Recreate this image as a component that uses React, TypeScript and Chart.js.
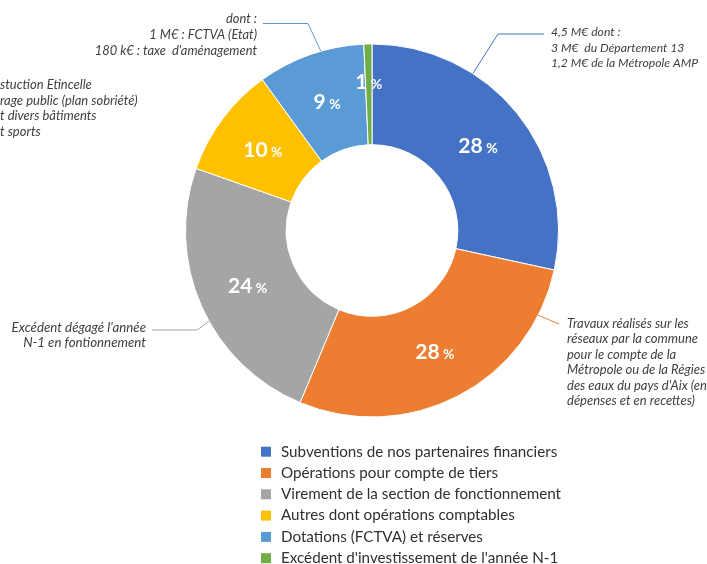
import React, { useEffect, useRef } from "react";
import { Chart, registerables } from "chart.js";

Chart.register(...registerables);

// ---- Data ----
const categories = [
  "Subventions de nos partenaires financiers",
  "Opérations pour compte de tiers",
  "Virement de la section de fonctionnement",
  "Autres dont opérations comptables",
  "Dotations (FCTVA) et réserves",
  "Excédent d'investissement de l'année N-1",
];
const shares = [28.4, 27.9, 24.1, 9.6, 9.3, 0.7];
const colors = ["#4472C4", "#ED7D31", "#A5A5A5", "#FFC000", "#5B9BD5", "#70AD47"];

const calloutSubventions = ["4,5 M€ dont :", "3 M€  du Département 13", "1,2 M€ de la Métropole AMP"];
const calloutDotations = ["dont :", "1 M€ : FCTVA (Etat)", "180 k€ : taxe  d'aménagement"];
const calloutAutres = ["stuction Etincelle", "rage public (plan sobriété)", "t divers bâtiments", "t sports"];
const calloutVirement = ["Excédent dégagé l'année", "N-1 en fontionnement"];
const calloutTiers = [
  "Travaux réalisés sur les",
  "réseaux par la commune",
  "pour le compte de la",
  "Métropole ou de la Régies",
  "des eaux du pays d'Aix (en",
  "dépenses et en recettes)",
];

const FONT = "Lato, 'Noto Sans', sans-serif";
const TEXT_COLOR = "#404040";

type Callout = {
  index: number;
  frac: number | null;
  path: number[][];
  lines: string[];
  x: number;
  y: number;
  lh: number;
  size: number;
  align: CanvasTextAlign;
};

const callouts: Callout[] = [
  { index: 0, frac: 0.32, path: [[498, 34], [544, 34]], lines: calloutSubventions, x: 551, y: 32.5, lh: 15.3, size: 12.2, align: "left" },
  { index: 4, frac: 0.6, path: [[308, 23.5], [263, 23.5]], lines: calloutDotations, x: 257, y: 19, lh: 15.7, size: 12.9, align: "right" },
  { index: 3, frac: null, path: [], lines: calloutAutres, x: 0, y: 85, lh: 15.6, size: 13, align: "left" },
  { index: 2, frac: 0.44, path: [[197, 330], [152, 330]], lines: calloutVirement, x: 146, y: 328, lh: 15, size: 13.3, align: "right" },
  { index: 1, frac: 0.147, path: [[559, 324]], lines: calloutTiers, x: 567, y: 323.5, lh: 15.5, size: 13, align: "left" },
];

const pctLabels = {
  id: "pctLabels",
  afterDatasetsDraw(chart: any) {
    const ctx = chart.ctx as CanvasRenderingContext2D;
    const meta = chart.getDatasetMeta(0);
    const data = chart.data.datasets[0].data as number[];
    const total = data.reduce((a, b) => a + b, 0);
    meta.data.forEach((arc: any, i: number) => {
      const p = arc.getProps(["x", "y", "startAngle", "endAngle", "innerRadius", "outerRadius"], true);
      const mid = (p.startAngle + p.endAngle) / 2;
      const span = p.endAngle - p.startAngle;
      let r = (p.innerRadius + p.outerRadius) / 2;
      if (span < 0.1) r = p.outerRadius - 37;
      const cx = p.x + Math.cos(mid) * r;
      const cy = p.y + Math.sin(mid) * r;
      const num = String(Math.round((data[i] / total) * 100));
      ctx.save();
      ctx.fillStyle = "#ffffff";
      ctx.textBaseline = "alphabetic";
      ctx.textAlign = "left";
      ctx.font = `bold 21px ${FONT}`;
      const w1 = ctx.measureText(num).width;
      ctx.font = `bold 14px ${FONT}`;
      const w2 = ctx.measureText(" %").width;
      const x0 = cx - (w1 + w2) / 2;
      const base = cy + 7.5;
      ctx.font = `bold 21px ${FONT}`;
      ctx.fillText(num, x0, base);
      ctx.font = `bold 14px ${FONT}`;
      ctx.fillText(" %", x0 + w1, base);
      ctx.restore();
    });
  },
};

const calloutPlugin = {
  id: "callouts",
  afterDatasetsDraw(chart: any) {
    const ctx = chart.ctx as CanvasRenderingContext2D;
    const meta = chart.getDatasetMeta(0);
    const bg = chart.data.datasets[0].backgroundColor as string[];
    callouts.forEach((c) => {
      ctx.save();
      if (c.frac !== null) {
        const arc = meta.data[c.index];
        const p = arc.getProps(["x", "y", "startAngle", "endAngle", "outerRadius"], true);
        const a = p.startAngle + (p.endAngle - p.startAngle) * c.frac;
        const ax = p.x + Math.cos(a) * p.outerRadius;
        const ay = p.y + Math.sin(a) * p.outerRadius;
        ctx.strokeStyle = bg[c.index];
        ctx.lineWidth = 1;
        ctx.beginPath();
        ctx.moveTo(ax, ay);
        c.path.forEach(([x, y]) => ctx.lineTo(x, y));
        ctx.stroke();
      }
      ctx.fillStyle = TEXT_COLOR;
      ctx.font = `italic ${c.size}px ${FONT}`;
      ctx.textAlign = c.align;
      ctx.textBaseline = "middle";
      c.lines.forEach((t, k) => ctx.fillText(t, c.x, c.y + k * c.lh));
      ctx.restore();
    });
  },
};

const legendPlugin = {
  id: "customLegend",
  afterDraw(chart: any) {
    const ctx = chart.ctx as CanvasRenderingContext2D;
    const labels = chart.data.labels as string[];
    const bg = chart.data.datasets[0].backgroundColor as string[];
    ctx.save();
    ctx.font = `15.2px ${FONT}`;
    ctx.textAlign = "left";
    ctx.textBaseline = "middle";
    labels.forEach((l, i) => {
      const y = 451.7 + i * 21.3;
      ctx.fillStyle = bg[i];
      ctx.fillRect(261, y - 5, 10, 10);
      ctx.fillStyle = "#303030";
      ctx.fillText(l, 281, y);
    });
    ctx.restore();
  },
};

export default function App() {
  const ref = useRef<HTMLCanvasElement | null>(null);
  useEffect(() => {
    if (!ref.current) return;
    const chart = new Chart(ref.current, {
      type: "doughnut",
      data: {
        labels: categories,
        datasets: [
          {
            data: shares,
            backgroundColor: colors,
            borderColor: "#ffffff",
            borderWidth: 1,
          },
        ],
      },
      options: {
        responsive: false,
        animation: false,
        cutout: "46%",
        layout: { padding: { left: 185, right: 148, top: 43, bottom: 146 } },
        plugins: {
          legend: { display: false },
          tooltip: { enabled: false },
          title: { display: false },
        },
      },
      plugins: [pctLabels, calloutPlugin, legendPlugin],
    });
    return () => chart.destroy();
  }, []);
  return (
    <div style={{ position: "absolute", left: 0, top: 0, width: 707, height: 564, background: "#fff" }}>
      <canvas ref={ref} width={707} height={564} style={{ display: "block" }} />
    </div>
  );
}
